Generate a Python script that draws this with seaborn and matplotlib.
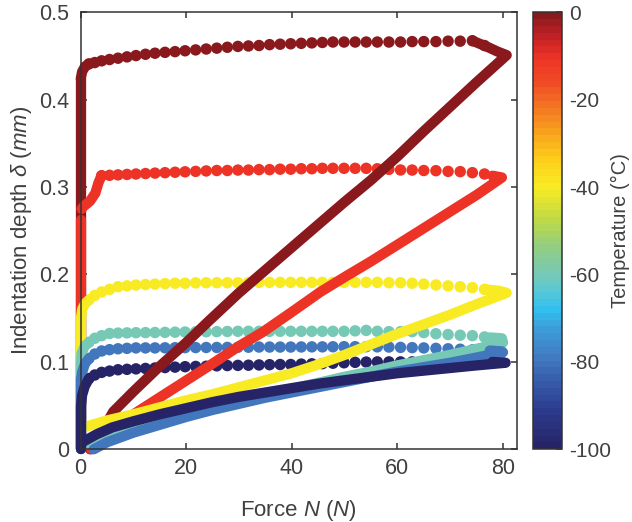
import numpy as np
import pandas as pd
import matplotlib
matplotlib.use("Agg")
import matplotlib.pyplot as plt
import seaborn as sns
from matplotlib.colors import LinearSegmentedColormap, Normalize
from matplotlib.cm import ScalarMappable

# ---------------- data ----------------
temps = [0, -10, -40, -60, -80, -100]

# force values of the sparse (unloading / hold) markers, shared by all curves
hold_f = [76.5, 74.2, 71.9, 69.6, 67.3, 65.0, 62.8, 60.6, 58.4, 56.2, 54.1, 52.0,
          49.9, 47.8, 45.8, 43.8, 41.8, 39.8, 37.8, 35.8, 33.8, 31.8, 29.8, 27.8,
          25.8, 23.8, 21.8, 19.8, 17.9, 16.0, 14.1, 12.3, 10.5, 8.8, 7.1, 5.5,
          4.0, 2.7, 1.6]

# T = 0
load_f_t0 = [1.8, 4.0, 6.2, 10, 15, 20, 24.5, 30, 35, 40, 45, 50, 55, 60, 65, 70, 75, 80.7, 79.0, 77.4, 74.2]
load_d_t0 = [0.0, 0.020, 0.043, 0.066, 0.095, 0.122, 0.148, 0.179, 0.205, 0.231, 0.257, 0.283,
             0.308, 0.335, 0.364, 0.392, 0.420, 0.451, 0.455, 0.4595, 0.4675]
hold_d_t0 = [0.462, 0.4675, 0.467, 0.467, 0.4665, 0.4665, 0.4665, 0.466, 0.466, 0.466, 0.466, 0.466,
             0.466, 0.466, 0.4655, 0.465, 0.4645, 0.464, 0.4635, 0.463, 0.462, 0.4615, 0.461, 0.460,
             0.459, 0.458, 0.457, 0.456, 0.455, 0.4542, 0.4532, 0.452, 0.4505, 0.449, 0.4475, 0.446,
             0.4445, 0.4425, 0.441]
hook_f_t0 = [1.6, 0.85, 0.3, 0.05]
hook_d_t0 = [0.441, 0.438, 0.432, 0.424]
drop_f_t0 = [0.1, 0.1]
drop_d_t0 = [0.424, 0.0]

# T = -10
load_f_t10 = [2.0, 5, 11.3, 18.8, 25, 30, 34.6, 40, 45.4, 50, 55, 60, 65, 70, 75, 79.8, 78.0]
load_d_t10 = [0.0, 0.020, 0.045, 0.074, 0.098, 0.118, 0.1345, 0.157, 0.180, 0.197, 0.215, 0.234,
              0.253, 0.272, 0.291, 0.311, 0.313]
hold_d_t10 = [0.315, 0.3165, 0.3177, 0.318, 0.3188, 0.319, 0.3195, 0.3196, 0.3203, 0.321, 0.3215, 0.3215,
              0.3215, 0.3215, 0.3215, 0.321, 0.321, 0.3205, 0.3205, 0.320, 0.320, 0.3195, 0.3195, 0.319,
              0.319, 0.3185, 0.318, 0.3175, 0.317, 0.3165, 0.316, 0.3155, 0.315, 0.3145, 0.314, 0.3135,
              0.313, np.nan, np.nan]
hook_f_t10 = [4.0, 3.4, 2.8, 1.8, 0.6, 0.2]
hook_d_t10 = [0.3135, 0.305, 0.293, 0.284, 0.278, 0.275]
drop_f_t10 = [0.1, 0.1]
drop_d_t10 = [0.262, 0.0]

# T = -40
load_f_t40 = [0.5, 5, 10, 15, 20, 25, 30, 35, 40, 45, 50, 55, 60, 65, 70, 75, 80.7, 80.4, 79.1, 76.5]
load_d_t40 = [0.025, 0.033, 0.040, 0.048, 0.056, 0.063, 0.071, 0.079, 0.087, 0.097, 0.108, 0.120,
              0.132, 0.143, 0.154, 0.166, 0.179, 0.1795, 0.1815, 0.183]
hold_d_t40 = [0.183, 0.185, 0.186, 0.187, 0.188, 0.189, 0.190, 0.1906, 0.1906, 0.191, 0.191, 0.191,
              0.191, 0.191, 0.191, 0.191, 0.191, 0.191, 0.191, 0.191, 0.191, 0.1908, 0.1906, 0.1906,
              0.1906, 0.1906, 0.1904, 0.190, 0.190, 0.1895, 0.189, 0.1885, 0.188, 0.187, 0.186, 0.183,
              0.180, 0.176, 0.171]
hook_f_t40 = [1.6, 0.9, 0.3, 0.1]
hook_d_t40 = [0.171, 0.167, 0.160, 0.150]
drop_f_t40 = [0.1, 0.1]
drop_d_t40 = [0.150, 0.025]

# T = -60
load_f_t60 = [0.8, 2, 5, 10, 15, 20, 25, 30, 35, 40, 45, 50, 55, 60, 65, 70, 75, 80, 79.8, 77.5]
load_d_t60 = [0.005, 0.010, 0.015, 0.023, 0.031, 0.040, 0.048, 0.055, 0.062, 0.069, 0.076, 0.083,
              0.089, 0.096, 0.102, 0.108, 0.115, 0.122, 0.127, 0.128]
hold_d_t60 = [0.1285, 0.130, 0.1305, 0.1313, 0.1322, 0.1335, 0.1346, 0.1346, 0.1346, 0.135, 0.136, 0.1355,
              0.135, 0.135, 0.135, 0.135, 0.135, 0.135, 0.135, 0.135, 0.135, 0.135, 0.135, 0.1348,
              0.1346, 0.1345, 0.1344, 0.1342, 0.134, 0.1338, 0.1336, 0.1335, 0.1334, 0.1332, 0.133, 0.1325,
              0.130, 0.127, 0.1225]
hook_f_t60 = [1.6, 0.8, 0.2, 0.1]
hook_d_t60 = [0.1225, 0.118, 0.110, 0.100]
drop_f_t60 = [0.1, 0.1]
drop_d_t60 = [0.100, 0.0]

# T = -80
load_f_t80 = [2.5, 5, 10, 15, 20, 25, 30, 35, 40, 45, 50, 55, 60, 65, 70, 75, 80, 79.8, 77.5]
load_d_t80 = [0.0, 0.008, 0.019, 0.028, 0.037, 0.045, 0.052, 0.059, 0.065, 0.071, 0.077, 0.083,
              0.089, 0.094, 0.099, 0.105, 0.111, 0.112, 0.113]
hold_d_t80 = [0.113, 0.1138, 0.1145, 0.115, 0.1155, 0.116, 0.1163, 0.1166, 0.117, 0.1172, 0.1174, 0.1174,
              0.1174, 0.1173, 0.1172, 0.1172, 0.1171, 0.117, 0.117, 0.117, 0.117, 0.1168, 0.1167, 0.1166,
              0.1165, 0.1165, 0.1164, 0.1163, 0.1162, 0.1161, 0.116, 0.116, 0.116, 0.1155, 0.115, 0.114,
              0.1125, 0.109, 0.104]
hook_f_t80 = [1.6, 0.85, 0.3, 0.1]
hook_d_t80 = [0.104, 0.098, 0.088, 0.080]
drop_f_t80 = [0.1, 0.1]
drop_d_t80 = [0.080, 0.0]

# T = -100
load_f_t100 = [0.3, 3, 6, 10, 15, 20, 25, 30, 35, 40, 45, 50, 55, 60, 65, 70, 75, 80.5, 78]
load_d_t100 = [0.008, 0.017, 0.025, 0.032, 0.040, 0.047, 0.054, 0.060, 0.065, 0.070, 0.075, 0.079,
               0.083, 0.087, 0.090, 0.093, 0.096, 0.099, 0.100]
hold_d_t100 = [0.100, 0.100, 0.100, 0.100, 0.100, 0.100, 0.100, 0.100, 0.100, 0.100, 0.0998, 0.0995,
               0.099, 0.0985, 0.098, 0.0978, 0.0975, 0.097, 0.097, 0.0968, 0.0965, 0.0962, 0.096, 0.0958,
               0.0955, 0.095, 0.0948, 0.0945, 0.094, 0.0935, 0.093, 0.0925, 0.092, 0.0915, 0.091, 0.0895,
               0.088, 0.085, 0.081]
hook_f_t100 = [1.6, 0.8, 0.3, 0.1]
hook_d_t100 = [0.081, 0.072, 0.062, 0.050]
drop_f_t100 = [0.1, 0.1]
drop_d_t100 = [0.050, 0.0]

curves = [
    (load_f_t0, load_d_t0, hold_d_t0, hook_f_t0, hook_d_t0, drop_f_t0, drop_d_t0),
    (load_f_t10, load_d_t10, hold_d_t10, hook_f_t10, hook_d_t10, drop_f_t10, drop_d_t10),
    (load_f_t40, load_d_t40, hold_d_t40, hook_f_t40, hook_d_t40, drop_f_t40, drop_d_t40),
    (load_f_t60, load_d_t60, hold_d_t60, hook_f_t60, hook_d_t60, drop_f_t60, drop_d_t60),
    (load_f_t80, load_d_t80, hold_d_t80, hook_f_t80, hook_d_t80, drop_f_t80, drop_d_t80),
    (load_f_t100, load_d_t100, hold_d_t100, hook_f_t100, hook_d_t100, drop_f_t100, drop_d_t100),
]

cb_ticks = [0, -20, -40, -60, -80, -100]
cb_ticklabels = ["0", "-20", "-40", "-60", "-80", "-100"]
x_ticks = [0, 20, 40, 60, 80]
y_ticks = [0, 0.1, 0.2, 0.3, 0.4, 0.5]
y_ticklabels = ["0", "0.1", "0.2", "0.3", "0.4", "0.5"]

# ---------------- style ----------------
sns.set_style("ticks")
plt.rcParams['font.family'] = ['Liberation Sans', 'DejaVu Sans']
plt.rcParams['mathtext.fontset'] = 'custom'
plt.rcParams['mathtext.it'] = 'Liberation Sans:italic'
plt.rcParams['mathtext.rm'] = 'Liberation Sans'
plt.rcParams['axes.unicode_minus'] = False

TXT = '#404040'
FS_TICK = 15.5
FS_LAB = 16
LW = 7.4
S = 68

cmap_nodes = [
    (0.00, '#262466'), (0.08, '#2C3A8C'), (0.14, '#3556A6'), (0.20, '#4277BE'),
    (0.27, '#3C9CD8'), (0.32, '#33C1EE'), (0.36, '#5BC8D6'), (0.40, '#76C9B5'),
    (0.46, '#92CD84'), (0.52, '#BAD84A'), (0.60, '#F8EB24'), (0.66, '#FDD21A'),
    (0.72, '#F9A81C'), (0.78, '#F47B22'), (0.84, '#F04E26'), (0.90, '#EE3426'),
    (0.95, '#C42126'), (1.00, '#8A191D'),
]
cmap = LinearSegmentedColormap.from_list('temp', cmap_nodes)
norm = Normalize(vmin=-100, vmax=0)

fig = plt.figure(figsize=(6.32, 5.22), dpi=100)
ax = fig.add_axes([0.1274, 0.1393, 0.6902, 0.8371])
cax = fig.add_axes([0.8434, 0.1393, 0.0459, 0.8371])


def dense(xs, ys, c):
    df = pd.DataFrame({'F': xs, 'd': ys})
    sns.lineplot(data=df, x='F', y='d', sort=False, estimator=None, color=c, lw=LW,
                 ax=ax, solid_capstyle='round', solid_joinstyle='round', clip_on=False,
                 legend=False)


for T, (lf, ld, hd, kf, kd, df_, dd) in zip(temps, curves):
    c = cmap(norm(T))
    dense(lf, ld, c)
    sns.scatterplot(x=hold_f, y=hd, color=c, s=S, edgecolor='none', linewidth=0,
                    ax=ax, clip_on=False, legend=False)
    dense(kf, kd, c)
    dense(df_, dd, c)

ax.set_xlim(0, 82.6)
ax.set_ylim(0, 0.5)
ax.set_xticks(x_ticks)
ax.set_xticklabels([str(v) for v in x_ticks])
ax.set_yticks(y_ticks)
ax.set_yticklabels(y_ticklabels)
ax.tick_params(direction='in', top=True, right=True, length=4, width=1.1,
               color='#333333', labelsize=FS_TICK, labelcolor=TXT)
ax.tick_params(axis='x', pad=6)
ax.tick_params(axis='y', pad=8)
for sp in ax.spines.values():
    sp.set_visible(True)
    sp.set_color('#333333')
    sp.set_linewidth(1.1)
ax.set_xlabel(r"Force $\mathit{N}$ $\mathit{(N)}$", fontsize=FS_LAB, color=TXT, labelpad=14)
ax.set_ylabel(r"Indentation depth $\mathit{\delta}$ $\mathit{(mm)}$", fontsize=FS_LAB, color=TXT, labelpad=4)

sm = ScalarMappable(norm=norm, cmap=cmap.resampled(64))
cb = fig.colorbar(sm, cax=cax, ticks=cb_ticks)
cb.set_ticklabels(cb_ticklabels)
cb.outline.set_edgecolor('#333333')
cb.outline.set_linewidth(1.1)
cax.tick_params(direction='in', length=4, width=1.1, color='#333333',
                labelsize=FS_TICK - 0.5, labelcolor=TXT, pad=5)
cb.set_label("Temperature (°C)", fontsize=FS_LAB - 1.5, color=TXT, labelpad=0)

fig.savefig("out.png", dpi=100)
